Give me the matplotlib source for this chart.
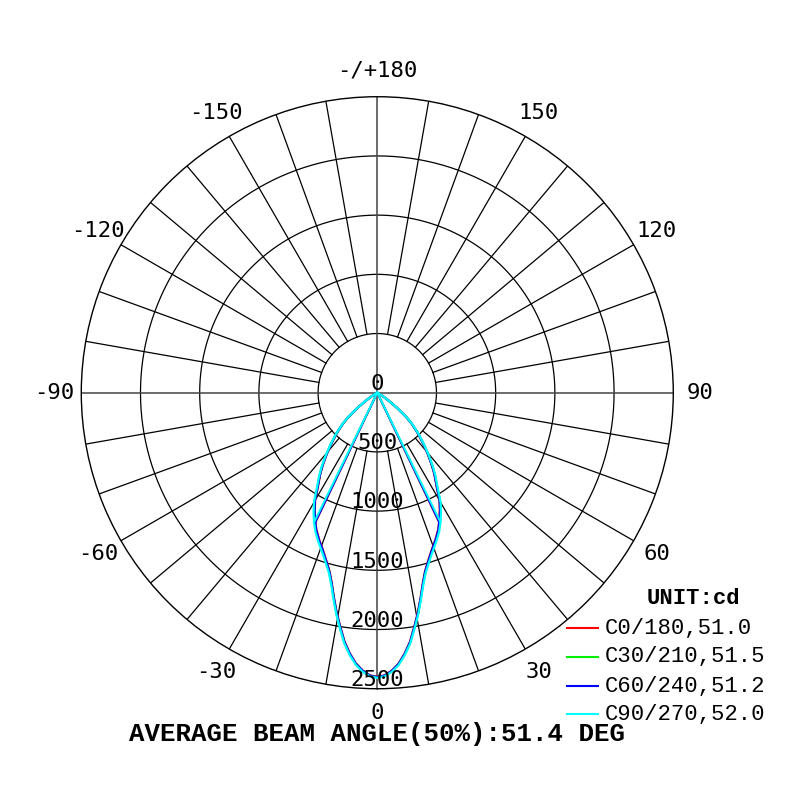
import numpy as np
import matplotlib
matplotlib.use("Agg")
import matplotlib.pyplot as plt

# gamma angles (deg) and intensity (cd) per C-plane
gamma = [0, 1.5, 3, 4.5, 6, 7.5, 9, 10.5, 12, 13.5, 15, 17, 19, 21.5, 24, 26, 28, 30,
         32.5, 35, 37, 39.5, 42, 45, 48, 50, 52.5, 55, 57.5, 60, 65, 70, 80, 90]
c0 = [2400, 2388, 2350, 2295, 2215, 2120, 2000, 1885, 1765, 1650, 1560, 1478, 1408,
      1337, 1265, 1196, 1125, 1050, 930, 840, 765, 670, 580, 485, 390, 320, 210,
      120, 60, 25, 5, 0, 0, 0]
c30 = [2404, 2392, 2355, 2300, 2222, 2128, 2008, 1893, 1772, 1658, 1568, 1486, 1416,
       1345, 1274, 1206, 1134, 1058, 938, 848, 772, 676, 586, 490, 394, 323, 212,
       121, 61, 25, 5, 0, 0, 0]
c60 = [2402, 2390, 2352, 2297, 2218, 2124, 2004, 1889, 1768, 1654, 1564, 1482, 1412,
       1341, 1269, 1200, 1129, 1054, 934, 844, 768, 673, 583, 487, 392, 321, 211,
       120, 60, 25, 5, 0, 0, 0]
c90 = [2408, 2396, 2360, 2306, 2228, 2135, 2016, 1901, 1780, 1667, 1577, 1496, 1427,
       1356, 1285, 1218, 1146, 1070, 948, 856, 780, 683, 592, 495, 398, 326, 214,
       122, 62, 26, 5, 0, 0, 0]

planes = ["C0/180", "C30/210", "C60/240", "C90/270"]
beam_angles = [51.0, 51.5, 51.2, 52.0]
colors = ["#ff0000", "#00ee00", "#0000ff", "#00ffff"]
series = [c0, c30, c60, c90]

ring_values = [0, 500, 1000, 1500, 2000, 2500]
angle_ticks = [0, 30, 60, 90, 120, 150, 180, -150, -120, -90, -60, -30]
angle_labels = ["0", "30", "60", "90", "120", "150", "-/+180",
                "-150", "-120", "-90", "-60", "-30"]

fig = plt.figure(figsize=(8, 8), dpi=100)
ax = fig.add_axes([0.1016, 0.1391, 0.74, 0.74], projection="polar")
ax.set_theta_zero_location("S")
ax.set_theta_direction(1)
ax.set_rlim(0, 2500)
ax.grid(False)
ax.set_xticks([])
ax.set_yticks([])
ax.spines["polar"].set_color("black")
ax.spines["polar"].set_linewidth(1.0)

# rings
full = np.linspace(0, 2 * np.pi, 721)
for rv in ring_values[1:-1]:
    ax.plot(full, np.full_like(full, rv), color="black", lw=0.9, zorder=1)

# radial lines every 10 deg, main axes go through the centre
for a in range(0, 360, 10):
    th = np.radians(a)
    if a % 90 == 0:
        ax.plot([th, th], [0, 2500], color="#444444", lw=1.1, zorder=1)
    else:
        ax.plot([th, th], [500, 2500], color="black", lw=0.9, zorder=1)

# curves: right side C0.., left side C180..
g = np.array(gamma)
for vals, col, ba in zip(series, colors, beam_angles):
    v = np.array(vals)
    th = np.radians(np.concatenate([-g[::-1], g[1:]]))
    r = np.concatenate([v[::-1], v[1:]])
    ax.plot(th, r, color=col, lw=1.6, zorder=3)
    half = ba / 2
    i50 = np.interp(half, g, v)
    for s in (-1, 1):
        ax.plot([0, np.radians(s * half)], [0, i50], color=col, lw=1.4, zorder=3)

# radial value labels
for rv in ring_values:
    ax.annotate(str(rv), xy=(0, rv), xytext=(0, 2), textcoords="offset points",
                ha="center", va="baseline", fontsize=16, color="black",
                family="DejaVu Sans Mono", zorder=4, annotation_clip=False)

# angle labels
for a, lab in zip(angle_ticks, angle_labels):
    rr = 2705 if a == 0 else 2725
    ax.text(np.radians(a), rr, lab, ha="center", va="center", fontsize=16,
            family="DejaVu Sans Mono", color="black", clip_on=False)

# legend
fig.text(693 / 800, 1 - 598 / 800, "UNIT:cd", ha="center", va="center",
         family="Liberation Mono", fontweight="bold", fontsize=16)
ys = [628, 657, 686, 714]
for y, name, ba, col in zip(ys, planes, beam_angles, colors):
    fig.add_artist(plt.Line2D([567 / 800, 598 / 800], [1 - y / 800, 1 - y / 800],
                              color=col, lw=1.5))
    fig.text(605 / 800, 1 - y / 800, f"{name},{ba:.1f}", ha="left", va="center",
             family="Liberation Mono", fontsize=16)

fig.text(377 / 800, 1 - 734 / 800, "AVERAGE BEAM ANGLE(50%):51.4 DEG",
         ha="center", va="center", family="Liberation Mono",
         fontweight="bold", fontsize=18.5)

fig.savefig("out.png", dpi=100, facecolor="white")
